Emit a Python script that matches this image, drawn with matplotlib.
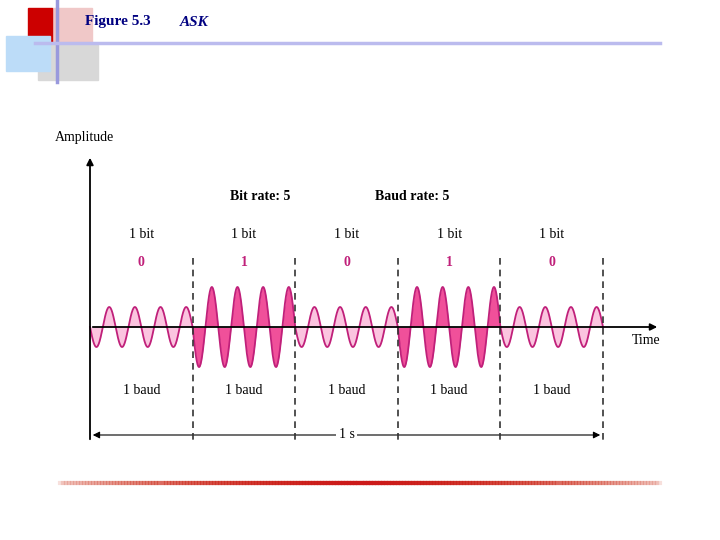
import numpy as np
import matplotlib.pyplot as plt
from matplotlib.patches import Rectangle

bits = [0, 1, 0, 1, 0]
bit_labels = ["1 bit"] * 5
baud_labels = ["1 baud"] * 5
amp_levels = {0: 20, 1: 40}
cycles_per_bit = 4

X0, X1, Y0 = 90, 603, 327
bw = (X1 - X0) / len(bits)

fig = plt.figure(figsize=(7.2, 5.4), dpi=100)
ax = fig.add_axes([0, 0, 1, 1])
ax.set_xlim(0, 720)
ax.set_ylim(540, 0)
ax.axis("off")

# slide decoration
ax.add_patch(Rectangle((28, 8), 24, 37, color="#cc0000", zorder=1))
ax.add_patch(Rectangle((52, 8), 40, 37, color="#f0c8c8", zorder=0.5))
ax.add_patch(Rectangle((6, 36), 44, 35, color="#bcdcf8", zorder=1.5))
ax.add_patch(Rectangle((38, 45), 60, 35, color="#d8d8d8", zorder=1))
ax.plot([57, 57], [0, 82], color="#9999dd", lw=2.5, zorder=2)
ax.plot([35, 660], [43, 43], color="#bbbbee", lw=2.5, zorder=2)
ax.text(85, 22, "Figure 5.3", color="#000080", fontsize=11, fontweight="bold",
        family="Liberation Serif", va="center")
ax.text(180, 22, "ASK", color="#000080", fontsize=11, fontweight="bold", style="italic",
        family="Liberation Serif", va="center")
ramp = np.linspace(0, 1, 200)
for i in range(199):
    a = 1 - abs(ramp[i] - 0.5) * 2
    ax.plot([60 + 600 * ramp[i], 60 + 600 * ramp[i + 1]], [483, 483],
            color=(0.8, 0.1 * (1 - a) + 0.1, 0.1), alpha=0.15 + 0.85 * a, lw=3)

# waveform
for i, b in enumerate(bits):
    t = np.linspace(0, 1, 400)
    xs = X0 + bw * (i + t)
    ys = Y0 + amp_levels[b] * np.sin(2 * np.pi * cycles_per_bit * t)
    fc = "#f0509a" if b else "#fbc4df"
    ax.fill_between(xs, Y0, ys, color=fc, lw=0, zorder=2)
    ax.plot(xs, ys, color="#c0207a", lw=1.3, zorder=3)
    xc = X0 + bw * (i + 0.5)
    ax.text(xc, 235, bit_labels[i], ha="center", va="center", fontsize=10, family="Liberation Serif")
    ax.text(xc, 262, str(b), ha="center", va="center", fontsize=10, fontweight="bold",
            color="#c0207a", family="Liberation Serif")
    ax.text(xc, 390, baud_labels[i], ha="center", va="center", fontsize=10, family="Liberation Serif")

for i in range(1, len(bits) + 1):
    ax.plot([X0 + bw * i] * 2, [258, 440], color="#333333", lw=1.2, ls=(0, (4, 3)), zorder=4)

# axes
ax.annotate("", xy=(90, 155), xytext=(90, 442),
            arrowprops=dict(arrowstyle="-|>", color="black", lw=1.3))
ax.annotate("", xy=(660, Y0), xytext=(90, Y0),
            arrowprops=dict(arrowstyle="-|>", color="black", lw=1.3), zorder=5)
ax.text(55, 138, "Amplitude", fontsize=10, va="center", family="Liberation Serif")
ax.text(632, 341, "Time", fontsize=10, va="center", family="Liberation Serif")
ax.text(230, 197, "Bit rate: 5", fontsize=10, fontweight="bold", va="center", family="Liberation Serif")
ax.text(375, 197, "Baud rate: 5", fontsize=10, fontweight="bold", va="center", family="Liberation Serif")

ax.annotate("", xy=(X0, 435), xytext=(X1, 435),
            arrowprops=dict(arrowstyle="<|-|>", color="black", lw=0.8))
ax.text((X0 + X1) / 2, 435, "1 s", ha="center", va="center", fontsize=10,
        family="Liberation Serif", bbox=dict(fc="white", ec="none", pad=2))

fig.savefig("out.png", dpi=100)
